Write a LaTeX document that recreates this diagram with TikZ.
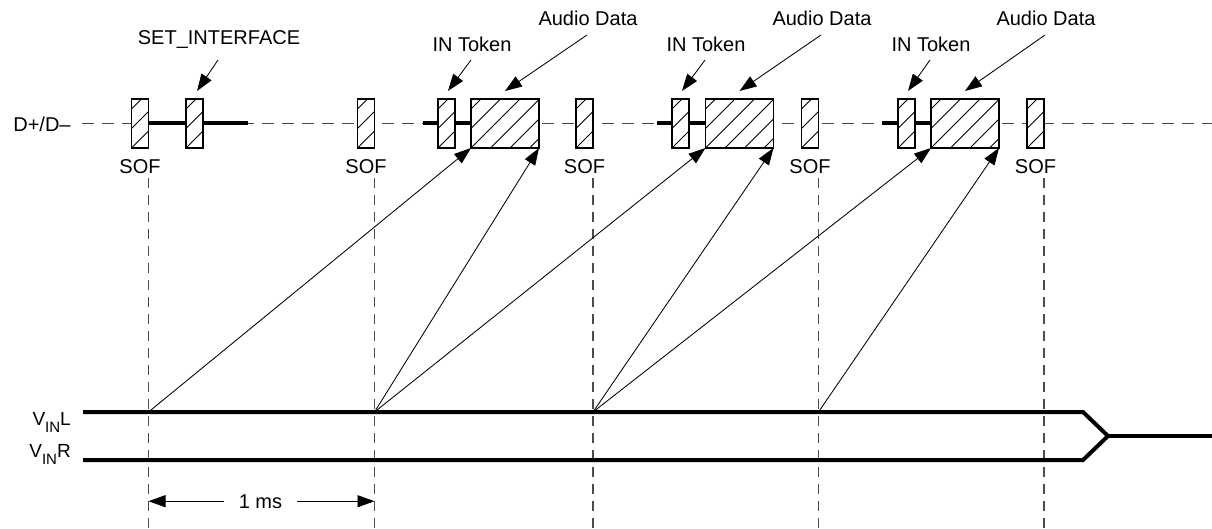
\documentclass[tikz,border=0pt]{standalone}
\usepackage{fontspec}
\setmainfont{Liberation Sans}
\usetikzlibrary{arrows.meta}
\begin{document}
\begin{tikzpicture}[x=1pt,y=-1pt,
  txt/.style={inner sep=0pt, font=\fontsize{20}{24}\selectfont},
  pkt/.style={draw, fill=white, line width=1.2pt, minimum height=49pt, minimum width=17pt, inner sep=0pt, outer sep=0pt,
     path picture={\foreach \i in {-58.5,-39,...,78} \draw[line width=0.75pt] ([xshift=\i*1pt]path picture bounding box.south west) -- ++(60pt,60pt);}},
  pktw/.style={pkt, minimum width=68pt},
  dline/.style={draw=black!70, line width=1.4pt, dash pattern=on 12pt off 8pt},
  vline/.style={draw=black!70, line width=1.4pt, dash pattern=on 10pt off 7pt},
  bus/.style={line width=4pt},
  ptr/.style={line width=0.85pt, -{Triangle[length=17pt,width=12pt]}},
]
\useasboundingbox (0,0) rectangle (1212,529);

% horizontal dashed bus line (behind packets)
\coordinate (ds) at (82,123.5);
\coordinate (de) at (1212,123.5);
\draw[dline] (ds) -- (de);

% thick active segments
\coordinate (si2e) at (248,123.5);
\coordinate (t1s) at (423,123.5);
\coordinate (t2s) at (657,123.5);
\coordinate (t3s) at (882,123.5);

\draw[bus] (140,123.5) -- (si2e);
\draw[bus] (t1s) -- (505,123.5);
\draw[bus] (t2s) -- (740,123.5);
\draw[bus] (t3s) -- (965,123.5);

% packets
\node[pkt]  (sofA) at (140,123.5) {};
\node[pkt]  (si2)  at (194.5,123.5) {};
\node[pkt]  (sofB) at (366,123.5) {};
\node[pkt]  (tok1) at (446.5,123.5) {};
\node[pktw] (aud1) at (505,123.5) {};
\node[pkt]  (sofC) at (584.5,123.5) {};
\node[pkt]  (tok2) at (680.5,123.5) {};
\node[pktw] (aud2) at (739.5,123.5) {};
\node[pkt]  (sofD) at (810,123.5) {};
\node[pkt]  (tok3) at (906.5,123.5) {};
\node[pktw] (aud3) at (965,123.5) {};
\node[pkt]  (sofE) at (1035.5,123.5) {};

% labels
\node[txt, anchor=base] (dlab) at (42,132) {D+/D–};
\foreach \s in {A,B,C,D,E}{
  \node[txt, anchor=base] (sof\s l) at (sof\s |- 0,174) {SOF};
}
\node[txt, anchor=base] (silab) at (219,45) {SET\_INTERFACE};
\node[txt, anchor=base] (in1) at (472,52) {IN Token};
\node[txt, anchor=base] (in2) at (706,52) {IN Token};
\node[txt, anchor=base] (in3) at (931,52) {IN Token};
\node[txt, anchor=base] (ad1) at (588,26) {Audio Data};
\node[txt, anchor=base] (ad2) at (822,26) {Audio Data};
\node[txt, anchor=base] (ad3) at (1046,26) {Audio Data};

% label arrows
\draw[ptr] ([shift={(-1pt,-15pt)}]silab.base) -- ([shift={(2.5pt,8pt)}]si2.north);
\draw[ptr] ([shift={(-1pt,-8pt)}]in1.base) -- ([shift={(1.5pt,8pt)}]tok1.north);
\draw[ptr] ([shift={(-1pt,-8pt)}]in2.base) -- ([shift={(1.5pt,8pt)}]tok2.north);
\draw[ptr] ([shift={(-1pt,-8pt)}]in3.base) -- ([shift={(1.5pt,8pt)}]tok3.north);
\draw[ptr] ([shift={(-1pt,-9pt)}]ad1.base) -- ([shift={(34pt,8pt)}]aud1.north west);
\draw[ptr] ([shift={(-1pt,-9pt)}]ad2.base) -- ([shift={(34pt,8pt)}]aud2.north west);
\draw[ptr] ([shift={(-1pt,-9pt)}]ad3.base) -- ([shift={(34pt,8pt)}]aud3.north west);

% vertical dashed frame markers
\coordinate (bot) at (0,529);
\foreach \s in {A,B,C,D,E}{
  \draw[vline] ([yshift=-4pt]sof\s.east |- sof\s l.south) -- (sof\s.east |- bot);
}

% analog signals
\coordinate (vl0) at (83,412);
\coordinate (vl1) at (1083,412);
\coordinate (mrg) at (1108,436);
\coordinate (vout) at (1212,436);
\coordinate (vr0) at (83,460);
\coordinate (vr1) at (1083,460);
\draw[bus, line join=miter] (vl0) -- (vl1) -- (mrg) -- (vr1) -- (vr0);
\draw[bus] (mrg) -- (vout);

\node[anchor=base east, inner sep=0pt, font=\fontsize{19}{22}\selectfont] (vinl) at (71,425) {V\raisebox{-7pt}{\fontsize{15}{15}\selectfont IN}L};
\node[anchor=base east, inner sep=0pt, font=\fontsize{19}{22}\selectfont] (vinr) at (71,457) {V\raisebox{-7pt}{\fontsize{15}{15}\selectfont IN}R};

% sample points
\coordinate (p1) at (sofA.east |- vl0);
\coordinate (p2) at (sofB.east |- vl0);
\coordinate (p3) at (sofC.east |- vl0);
\coordinate (p4) at (sofD.east |- vl0);

\draw[ptr] (p1) -- (aud1.south west);
\draw[ptr] (p2) -- (aud1.south east);
\draw[ptr] (p2) -- (aud2.south west);
\draw[ptr] (p3) -- (aud2.south east);
\draw[ptr] (p3) -- (aud3.south west);
\draw[ptr] (p4) -- (aud3.south east);

% 1 ms dimension
\node[txt, inner xsep=15pt, anchor=base] (ms) at (260.5,508) {1 ms};
\draw[ptr] (ms.west) -- (sofA.east |- ms.west);
\draw[ptr] (ms.east) -- (sofB.east |- ms.east);
\end{tikzpicture}
\end{document}
